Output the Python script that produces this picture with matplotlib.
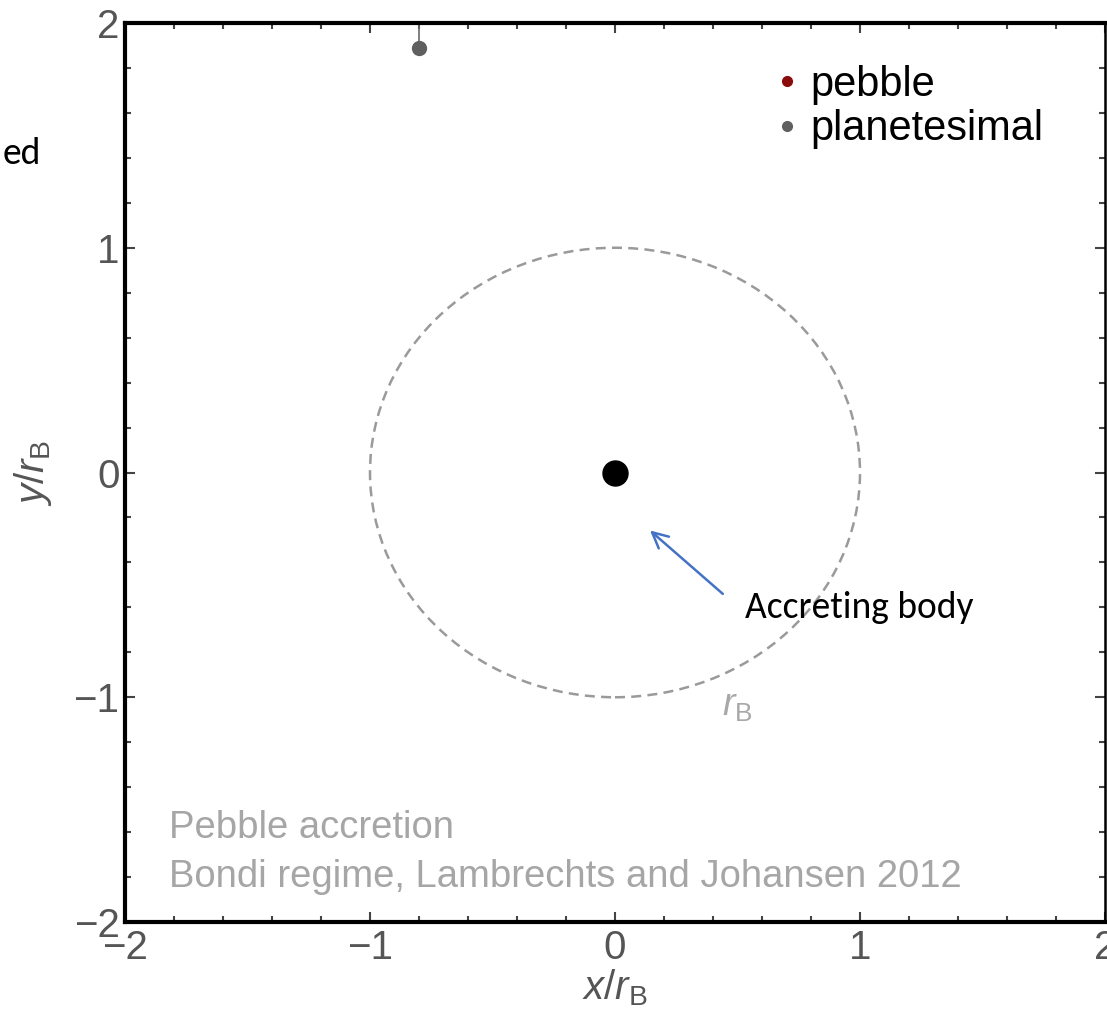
import matplotlib
matplotlib.use("Agg")
import matplotlib.pyplot as plt
from matplotlib.lines import Line2D
from matplotlib.patches import Circle
from matplotlib.ticker import MultipleLocator

plt.rcParams['font.family'] = ['Liberation Sans', 'DejaVu Sans']
plt.rcParams['mathtext.fontset'] = 'custom'
plt.rcParams['mathtext.rm'] = 'Liberation Sans'
plt.rcParams['mathtext.it'] = 'Liberation Sans:italic'

# ---- data ----
body_x = [0.0]
body_y = [0.0]
planetesimal_x = [-0.8]
planetesimal_y = [1.89]
track_x = [-0.8, -0.8]
track_y = [2.0, 1.89]
bondi_radius = 1.0
axis_limits = [-2, 2]
major_ticks = [-2, -1, 0, 1, 2]
tick_labels = ["\u22122", "\u22121", "0", "1", "2"]
legend_labels = ["pebble", "planetesimal"]
legend_colors = ["#8b0a0a", "#5f5f5f"]
notes = ["Pebble accretion", "Bondi regime, Lambrechts and Johansen 2012"]

SANS = "Liberation Sans"
CAL = ["Carlito", "Lato"]

fig = plt.figure(figsize=(11.07, 10.14), dpi=100)
ax = fig.add_axes([125/1107, 1 - 922/1014, 980/1107, 899/1014])
ax.set_xlim(axis_limits)
ax.set_ylim(axis_limits)

# Bondi radius circle
ax.add_patch(Circle((0, 0), bondi_radius, fill=False, ec="#9a9a9a", lw=1.8,
                    ls=(0, (4, 2.5))))
ax.text(0.5, -1.04, r"$r_{\rm B}$", color="#a8a8a8", fontsize=27,
        ha="center", va="center")

# accreting body
ax.plot(body_x, body_y, "o", color="black", markersize=18)

# planetesimal and its track
ax.plot(track_x, track_y, "-", color="#6a6a6a", lw=1.2)
ax.plot(planetesimal_x, planetesimal_y, "o", color="#5f5f5f", markersize=10)

# notes
ax.text(-1.82, -1.58, notes[0], color="#a6a6a6", fontsize=27.5, va="center",
        family=SANS)
ax.text(-1.82, -1.80, notes[1], color="#a6a6a6", fontsize=27.5, va="center",
        family=SANS)

# legend
handles = [Line2D([], [], ls="none", marker="o", color=c, markersize=7)
           for c in legend_colors]
leg = ax.legend(handles, legend_labels, loc="upper right",
                bbox_to_anchor=(0.975, 0.995), frameon=False, fontsize=30,
                handletextpad=0.05, handlelength=1.0, labelspacing=0.1,
                prop={"family": SANS, "size": 30})

# annotation
ax.annotate("", xy=(0.143, -0.258), xytext=(0.44, -0.54),
            arrowprops=dict(arrowstyle="->", color="#4472c4", lw=1.8,
                            mutation_scale=28, shrinkA=0, shrinkB=0))
ax.text(0.53, -0.60, "Accreting body", fontsize=27, family=CAL,
        color="black", va="center", ha="left")

# clipped side text
fig.text(3/1107, 1 - 153/1014, "ed", fontsize=27, family=CAL, color="black",
         va="center", ha="left")

# axes styling
ax.set_xticks(major_ticks)
ax.set_yticks(major_ticks)
ax.set_xticklabels(tick_labels, family=SANS)
ax.set_yticklabels(tick_labels, family=SANS)
ax.xaxis.set_minor_locator(MultipleLocator(0.2))
ax.yaxis.set_minor_locator(MultipleLocator(0.2))
ax.tick_params(which="both", direction="in", top=True, right=True,
               colors="#444444", labelcolor="#555555")
ax.tick_params(which="major", length=7, width=1.5, labelsize=29)
ax.tick_params(which="minor", length=4, width=1.5)
ax.tick_params(axis="x", pad=5)
ax.tick_params(axis="y", pad=4)
for s in ["left", "bottom", "top"]:
    ax.spines[s].set_linewidth(3)
ax.spines["right"].set_linewidth(1.8)

ax.set_xlabel(r"$x/r_{\rm B}$", fontsize=29, color="#555555", labelpad=0)
ax.set_ylabel(r"$y/r_{\rm B}$", fontsize=29, color="#555555", labelpad=14)

fig.savefig("out.png", dpi=100)
